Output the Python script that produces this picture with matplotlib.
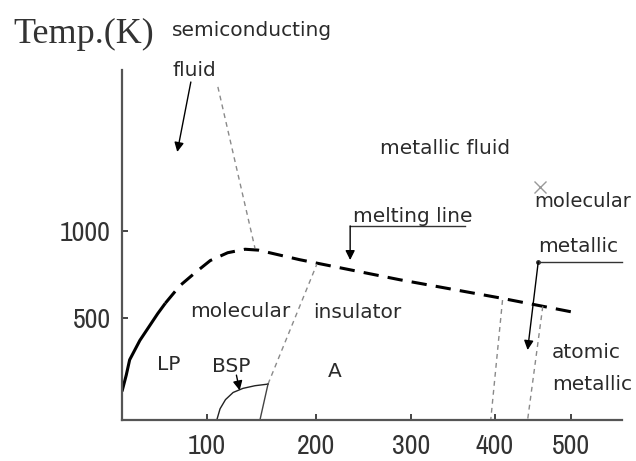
import matplotlib
matplotlib.use("Agg")
import matplotlib.pyplot as plt
from matplotlib import font_manager
import numpy as np

# axis anchors (the drawn axes are not linear)
p_anchor = [0, 100, 200, 300, 400, 500, 600]
p_pix = [0, 85, 194, 289, 373, 449, 519]
t_anchor = [0, 500, 1000, 2500]
t_pix = [0, 102, 189, 450]

x_ticks = [100, 200, 300, 400, 500]
y_ticks = [500, 1000]

# melting line (GPa, K)
melt_solid_p = [0, 5, 9, 21, 33, 42, 51]
melt_solid_t = [140, 220, 295, 390, 465, 525, 585]
melt_dash_p = [51, 68, 86, 103, 119, 135, 147, 185, 288, 407, 501]
melt_dash_t = [585, 685, 760, 830, 875, 895, 890, 835, 720, 615, 535]

# phase boundaries
bsp_p = [109, 112, 117, 124, 133, 144, 156]
bsp_t = [0, 55, 100, 135, 155, 168, 176]
ii_iii_p = [156, 148.6]
ii_iii_t = [176, 0]
i_iii_p = [156, 201]
i_iii_t = [176, 810]
semi_p = [110, 144]
semi_t = [1828, 902]
b400_p = [410, 395]
b400_t = [603, 0]
b440_p = [463, 443]
b440_t = [567, 0]

fwd_x = lambda v: np.interp(v, p_anchor, p_pix)
inv_x = lambda v: np.interp(v, p_pix, p_anchor)
fwd_y = lambda v: np.interp(v, t_anchor, t_pix)
inv_y = lambda v: np.interp(v, t_pix, t_anchor)

# the tick numbers are in a condensed face; use one if there is one
names = sorted({f.name for f in font_manager.fontManager.ttflist})
narrow = [n for n in names if 'Narrow' in n or 'Condensed' in n]
if 'Liberation Sans Narrow' in names:
    narrow = ['Liberation Sans Narrow']
if narrow:
    tickfont, tick_fs = [narrow[0], 'DejaVu Sans'], 20
else:
    tickfont, tick_fs = ['Roboto', 'DejaVu Sans'], 17

fig = plt.figure(figsize=(6.36, 4.61), dpi=100)
ax = fig.add_axes([122/636, 41/461, 500/636, 350/461])
ax.set_xscale('function', functions=(fwd_x, inv_x))
ax.set_yscale('function', functions=(fwd_y, inv_y))
ax.set_xlim(0, 573)
ax.set_ylim(0, 1925)

for s in ['top', 'right']:
    ax.spines[s].set_visible(False)
for s in ['left', 'bottom']:
    ax.spines[s].set_color('#555555')
    ax.spines[s].set_linewidth(1.6)

ax.set_xticks(x_ticks)
ax.set_yticks(y_ticks)
ax.minorticks_off()
ax.set_xticklabels([str(v) for v in x_ticks], family=tickfont, fontsize=tick_fs, color='#333333')
ax.set_yticklabels([str(v) for v in y_ticks], family=tickfont, fontsize=tick_fs, color='#333333')
ax.tick_params(direction='in', length=4, width=1.4, color='#444444')
ax.tick_params(axis='x', pad=10)
ax.tick_params(axis='y', pad=8)

# melting line
ax.plot(melt_solid_p, melt_solid_t, color='black', lw=2.2, solid_capstyle='butt')
ax.plot(melt_dash_p, melt_dash_t, color='black', lw=2.2, linestyle=(0, (5, 3)))

gray = '#8a8a8a'
dash_thin = (0, (3.5, 3))
ax.plot(semi_p, semi_t, color=gray, lw=1, linestyle=dash_thin)
ax.plot(i_iii_p, i_iii_t, color=gray, lw=1, linestyle=dash_thin)
ax.plot(b400_p, b400_t, color=gray, lw=1, linestyle=dash_thin)
ax.plot(b440_p, b440_t, color=gray, lw=1, linestyle=dash_thin)
ax.plot(bsp_p, bsp_t, color='#222222', lw=1)
ax.plot(ii_iii_p, ii_iii_t, color='#444444', lw=1)

arrow = dict(arrowstyle='-|>', color='black', lw=1, mutation_scale=14, shrinkA=0, shrinkB=0)

# semiconducting fluid pointer
ax.annotate('', xy=(65, 1454), xytext=(81, 1856), arrowprops=arrow, annotation_clip=False)
# melting line pointer
ax.plot([236, 364], [1029, 1029], color='#333333', lw=1)
ax.annotate('', xy=(236, 833), xytext=(236, 1029), arrowprops=arrow)
# molecular metallic pointer
ax.plot([457, 573], [822, 822], color='#333333', lw=1, clip_on=False)
ax.plot([457], [822], 'o', color='#333333', ms=2.5)
ax.annotate('', xy=(443, 343), xytext=(457, 822), arrowprops=arrow)
# BSP pointer
ax.annotate('', xy=(130, 145), xytext=(127, 220), arrowprops=arrow)

ax.plot([459], [1253], marker='x', color='#999999', ms=9, mew=1)

tc = '#2a2a2a'
labels = [
    ('semiconducting', 59, 2121, 14.5),
    ('fluid', 59, 1891, 14.5),
    ('metallic fluid', 267, 1440, 14.5),
    ('melting line', 239, 1052, 14.5),
    ('molecular', 452, 1138, 14),
    ('metallic', 457, 879, 14.5),
    ('molecular', 80, 506, 14.5),
    ('insulator', 197, 500, 14.5),
    ('LP', 41, 245, 14.5),
    ('BSP', 104.6, 235, 14.5),
    ('A', 212, 211, 14.5),
    ('atomic', 475, 304, 14.5),
    ('metallic', 475, 147, 14.5),
]
for txt, x, y, fs in labels:
    ax.text(x, y, txt, fontsize=fs, color=tc, ha='left', va='baseline', clip_on=False)

fig.text(13/636, (461-43)/461, 'Temp.(K)', family=['Liberation Serif', 'DejaVu Serif'],
         fontsize=26, color='#333333', ha='left', va='baseline')

fig.savefig('out.png', dpi=100)
